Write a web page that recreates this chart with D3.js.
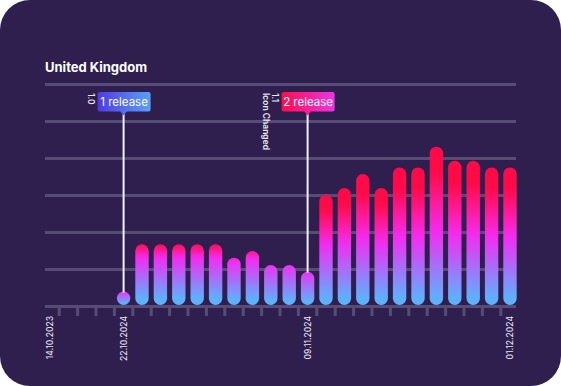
<!DOCTYPE html>
<html>
<head>
<meta charset="utf-8">
<script src="https://cdn.jsdelivr.net/npm/d3@7"></script>
<style>
  html, body { margin: 0; padding: 0; background: #fff; }
  svg { display: block; }
</style>
</head>
<body>
<svg id="chart" width="561" height="386"></svg>
<script>
// chart data
const title = 'United Kingdom';
const tickLabels = ['14.10.2023', '', '', '', '22.10.2024', '', '', '', '', '', '', '', '', '',
  '09.11.2024', '', '', '', '', '', '', '', '', '', '', '01.12.2024'];
const values = [null, null, null, null, 0, 84, 84, 84, 84, 84, 66, 75, 56, 56, 47,
  151, 160, 179, 160, 188, 188, 216, 197, 197, 188, 188];
const gridValues = [0, 50, 100, 150, 200, 250, 300];
const releaseSlots = [4, 14];
const releaseNames = ['1 release', '2 release'];
const releaseVersions = [['1.0'], ['1.1', 'Icon Changed']];

const W = 561, H = 386;
const svg = d3.select('#chart');
const defs = svg.append('defs');

svg.append('rect')
  .attr('width', W).attr('height', H)
  .attr('rx', 30).attr('fill', '#2e1f4f');

const x = d3.scaleBand()
  .domain(tickLabels.map((_, i) => i))
  .range([40.8, 519.2])
  .padding(0);

const y = d3.scaleLinear().domain([0, 300]).range([306.5, 84.5]);
const barBottom = 305;
const barW = 13.4;

svg.append('text')
  .attr('x', 45).attr('y', 72)
  .attr('fill', '#fff')
  .attr('font-family', 'Inter, sans-serif')
  .attr('font-weight', 700)
  .attr('font-size', 13)
  .text(title);

// grid lines
svg.append('g')
  .selectAll('line')
  .data(gridValues)
  .join('line')
  .attr('x1', 45).attr('x2', 516)
  .attr('y1', d => y(d)).attr('y2', d => y(d))
  .attr('stroke', '#574c76')
  .attr('stroke-width', 3);

// ticks on band edges
svg.append('g')
  .selectAll('line')
  .data(x.domain().slice(1))
  .join('line')
  .attr('x1', d => x(d)).attr('x2', d => x(d))
  .attr('y1', 306).attr('y2', 316)
  .attr('stroke', '#574c76')
  .attr('stroke-width', 3);

// bar colour as function of distance from the bottom
const blue = '#5cb2ff', magenta = '#f22cf2', pink = '#ff1a9c', red = '#ff0a48';
const upper = d3.interpolateRgbBasis([magenta, pink, red]);
function colorAt(d, h) {
  const b0 = Math.min(6, h * 0.1);
  const mD = Math.min(30.8 + 0.266 * h, h * 1.05);
  const redD = Math.max(h - Math.max(0, (h - 50) * 0.25), mD + 15);
  if (d <= b0) return blue;
  if (d <= mD) return d3.interpolateRgb(blue, magenta)((d - b0) / (mD - b0));
  if (d <= redD) return upper((d - mD) / (redD - mD));
  return red;
}

const bars = values
  .map((v, i) => ({ i, v }))
  .filter(d => d.v !== null)
  .map(d => {
    const top = Math.min(y(d.v), barBottom - barW);
    return { ...d, top, h: barBottom - top };
  });

bars.forEach(b => {
  const g = defs.append('linearGradient')
    .attr('id', 'bar' + b.i)
    .attr('x1', 0).attr('y1', 0).attr('x2', 0).attr('y2', 1);
  d3.range(0, 1.0001, 0.05).forEach(t => {
    g.append('stop')
      .attr('offset', t)
      .attr('stop-color', colorAt((1 - t) * b.h, b.h));
  });
});

svg.append('g')
  .selectAll('rect')
  .data(bars)
  .join('rect')
  .attr('x', d => x(d.i) + (x.bandwidth() - barW) / 2)
  .attr('y', d => d.top)
  .attr('width', barW)
  .attr('height', d => d.h)
  .attr('rx', barW / 2)
  .attr('fill', d => `url(#bar${d.i})`);

// release markers
const boxColors = [['#4f3ae2', '#5aa0f8'], ['#ff0c4c', '#f033e6']];
releaseSlots.forEach((slot, k) => {
  const cx = x(slot) + x.bandwidth() / 2;
  const bar = bars.find(b => b.i === slot);
  const grad = defs.append('linearGradient')
    .attr('id', 'rel' + k)
    .attr('x1', 0).attr('x2', 1).attr('y1', 0).attr('y2', 0);
  grad.append('stop').attr('offset', 0).attr('stop-color', boxColors[k][0]);
  grad.append('stop').attr('offset', 1).attr('stop-color', boxColors[k][1]);

  svg.append('line')
    .attr('x1', cx).attr('x2', cx)
    .attr('y1', 114).attr('y2', bar.top + 1)
    .attr('stroke', '#f4f2f8')
    .attr('stroke-width', 2);

  const bw = 53, bh = 19.5, bx = cx - 26, by = 92;
  svg.append('rect')
    .attr('x', bx).attr('y', by)
    .attr('width', bw).attr('height', bh)
    .attr('rx', 2)
    .attr('fill', `url(#rel${k})`);
  svg.append('path')
    .attr('d', `M${cx - 3.5},${by + bh - 0.5}L${cx + 3.5},${by + bh - 0.5}L${cx},${by + bh + 4}Z`)
    .attr('fill', d3.interpolateRgb(boxColors[k][0], boxColors[k][1])(0.5));
  svg.append('text')
    .attr('x', bx + bw / 2).attr('y', by + 14)
    .attr('text-anchor', 'middle')
    .attr('fill', '#fff')
    .attr('font-family', 'Inter, sans-serif')
    .attr('font-size', 11.5)
    .text(releaseNames[k]);

  const vt = svg.append('text')
    .attr('transform', `translate(${bx - 10},93) rotate(90)`)
    .attr('fill', '#ece8f4')
    .attr('font-family', 'Inter, sans-serif')
    .attr('font-weight', 600)
    .attr('font-size', 8.5);
  releaseVersions[k].forEach((line, j) => {
    vt.append('tspan').attr('x', 0).attr('y', j * 8.5).text(line);
  });
});

// date labels
svg.append('g')
  .selectAll('text')
  .data(tickLabels.map((t, i) => ({ t, i })).filter(d => d.t))
  .join('text')
  .attr('transform', d => `translate(${x(d.i) + x.bandwidth() / 2},316) rotate(-90)`)
  .attr('dy', '0.35em')
  .attr('text-anchor', 'end')
  .attr('fill', '#e6e2ee')
  .attr('font-family', 'Inter, sans-serif')
  .attr('font-weight', 500)
  .attr('font-size', 8.5)
  .text(d => d.t);
</script>
</body>
</html>
